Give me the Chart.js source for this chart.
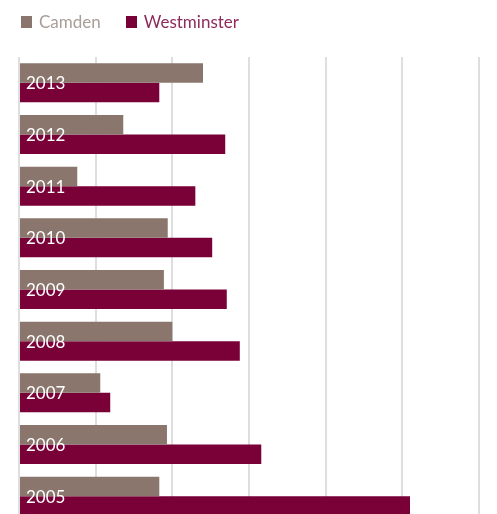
<!DOCTYPE html>
<html>
<head>
<meta charset="utf-8">
<script src="https://cdn.jsdelivr.net/npm/chart.js@4.4.1/dist/chart.umd.min.js"></script>
<style>
    html, body { margin: 0; padding: 0; background: #fff; overflow: hidden; }
    #wrap { position: relative; width: 497px; height: 530px; }
    #legend {
        position: absolute; top: 11px; left: 21px;
        font-family: Lato, "DejaVu Sans", sans-serif; font-size: 17px;
        display: flex; align-items: center; white-space: nowrap;
    }
    .item { display: flex; align-items: center; margin-right: 25px; }
    .box { display: inline-block; width: 11px; height: 12px; margin-right: 7px; }
</style>
</head>
<body>
<div id="wrap">
    <div id="legend"></div>
    <canvas id="chart"></canvas>
</div>
<script>
// ==========================
// Data
// ==========================

const years = ["2013", "2012", "2011", "2010", "2009", "2008", "2007", "2006", "2005"];
const camden = [2.40, 1.36, 0.76, 1.94, 1.89, 2.00, 1.06, 1.93, 1.83];
const westminster = [1.83, 2.69, 2.30, 2.52, 2.71, 2.88, 1.19, 3.16, 5.10];
const seriesNames = ["Camden", "Westminster"];

const seriesColors = ["#8a766c", "#7a0038"];
const legendTextColors = ["#a99d97", "#8e2a5c"];

// ==========================
// Legend (HTML)
// ==========================

const legend = document.getElementById("legend");
seriesNames.forEach((name, i) => {
    legend.innerHTML += `
        <span class="item">
            <span class="box" style="background:${seriesColors[i]}"></span>
            <span style="color:${legendTextColors[i]}">${name}</span>
        </span>`;
});

// ==========================
// Year labels inside bars
// ==========================

const yearLabels = {
    id: "yearLabels",
    afterDraw(chart) {
        const ctx = chart.ctx;
        const y = chart.scales.y;
        ctx.save();
        ctx.fillStyle = "#ffffff";
        ctx.font = "17px Lato, 'DejaVu Sans', sans-serif";
        ctx.textBaseline = "middle";
        ctx.textAlign = "left";
        years.forEach((yr, i) => {
            ctx.fillText(yr, chart.chartArea.left + 7, y.getPixelForTick(i) + 1);
        });
        ctx.restore();
    }
};

// ==========================
// Chart
// ==========================

new Chart(document.getElementById("chart"), {
    type: "bar",
    data: {
        labels: years,
        datasets: [
            { label: seriesNames[0], data: camden, backgroundColor: seriesColors[0] },
            { label: seriesNames[1], data: westminster, backgroundColor: seriesColors[1] }
        ]
    },
    options: {
        indexAxis: "y",
        responsive: true,
        maintainAspectRatio: false,
        animation: false,
        layout: { padding: { left: 19, right: 18, top: 57, bottom: 8 } },
        datasets: {
            bar: { categoryPercentage: 0.755, barPercentage: 1 }
        },
        plugins: {
            tooltip: { enabled: false },
            legend: { display: false }
        },
        scales: {
            x: {
                min: 0,
                max: 6,
                z: 1,
                ticks: { display: false, stepSize: 1 },
                border: { display: false },
                grid: { color: "rgba(0,0,0,0.13)", lineWidth: 2, drawTicks: false }
            },
            y: {
                display: false
            }
        }
    },
    plugins: [yearLabels]
});
</script>
</body>
</html>
